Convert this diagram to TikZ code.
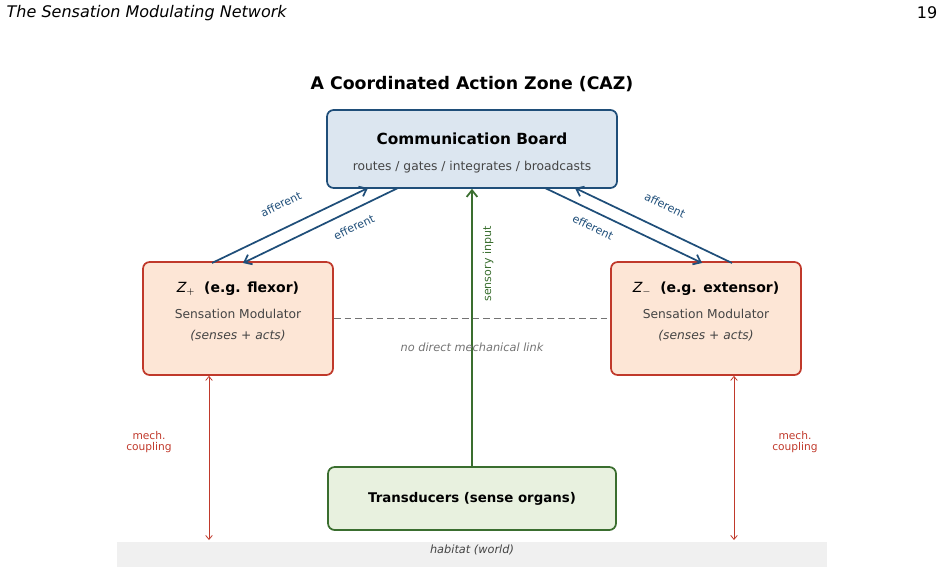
\documentclass[tikz,border=0pt]{standalone}
\usepackage{fontspec}
\setmainfont{DejaVu Sans}
\usetikzlibrary{arrows.meta}
\definecolor{bblue}{HTML}{1F4E79}
\definecolor{bfill}{HTML}{DCE6F0}
\definecolor{rred}{HTML}{C0392B}
\definecolor{rfill}{HTML}{FDE6D6}
\definecolor{ggreen}{HTML}{3A6E2F}
\definecolor{gfill}{HTML}{E8F1DF}
\definecolor{txtgray}{HTML}{444444}
\begin{document}
\begin{tikzpicture}[x=0.75pt,y=-0.75pt,
  box/.style={draw,line width=1.3pt,rounded corners=5pt,inner sep=0pt},
  conn/.style={line width=1.3pt,-{Straight Barb[length=5pt,width=8pt]}},
  mech/.style={rred,line width=0.6pt,{Straight Barb[length=3pt,width=5pt]}-{Straight Barb[length=3pt,width=5pt]}},
  lbl/.style={font=\fontsize{8.3}{9}\selectfont}]
\useasboundingbox (0,0) rectangle (946,588);
\node[anchor=west,font=\fontsize{12}{14}\selectfont\itshape] (hdr) at (2,13) {The Sensation Modulating Network};
\node[anchor=east,font=\fontsize{12}{14}\selectfont] (pg) at (942,13) {19};
\node[font=\fontsize{13}{15}\selectfont\bfseries] (title) at (472,84) {A Coordinated Action Zone (CAZ)};
% habitat
\fill[fill=black!6] (117,542) rectangle (827,567);
\node[font=\fontsize{8.5}{9}\selectfont\itshape,text=txtgray] (hab) at (472,550) {habitat (world)};
% boxes
\node[box,draw=bblue,fill=bfill,minimum width=290*0.75pt,minimum height=78*0.75pt] (cb) at (472,149) {};
\node[font=\fontsize{11.5}{13}\selectfont\bfseries] (cbt) at (472,139) {Communication Board};
\node[font=\fontsize{9.2}{10}\selectfont,text=txtgray] (cbs) at (472,167) {routes / gates / integrates / broadcasts};
\node[box,draw=rred,fill=rfill,minimum width=190*0.75pt,minimum height=113*0.75pt] (zp) at (238,318.5) {};
\node[font=\fontsize{10.5}{12}\selectfont\bfseries] (zpt) at (238,289) {\mdseries\itshape Z\upshape$_{+}$\ \ \bfseries(e.g. flexor)};
\node[font=\fontsize{9.2}{10}\selectfont,text=txtgray] (zps) at (238,314) {Sensation Modulator};
\node[font=\fontsize{9.2}{10}\selectfont\itshape,text=txtgray] (zpi) at (238,336) {(senses + acts)};
\node[box,draw=rred,fill=rfill,minimum width=190*0.75pt,minimum height=113*0.75pt] (zm) at (706,318.5) {};
\node[font=\fontsize{10.5}{12}\selectfont\bfseries] (zmt) at (706,289) {\mdseries\itshape Z\upshape$_{-}$\ \ \bfseries(e.g. extensor)};
\node[font=\fontsize{9.2}{10}\selectfont,text=txtgray] (zms) at (706,314) {Sensation Modulator};
\node[font=\fontsize{9.2}{10}\selectfont\itshape,text=txtgray] (zmi) at (706,336) {(senses + acts)};
\node[box,draw=ggreen,fill=gfill,minimum width=288*0.75pt,minimum height=63*0.75pt,font=\fontsize{10}{11}\selectfont\bfseries] (tr) at (472,498.5) {Transducers (sense organs)};
% connectors
\coordinate (a1) at (212,263); \coordinate (a2) at (368,188);
\coordinate (e1) at (398,188); \coordinate (e2) at (243,263);
\coordinate (e3) at (545,188); \coordinate (e4) at (702,263);
\coordinate (a3) at (732,263); \coordinate (a4) at (575,188);
\draw[conn,bblue] (a1) -- (a2);
\draw[conn,bblue] (e1) -- (e2);
\draw[conn,bblue] (e3) -- (e4);
\draw[conn,bblue] (a3) -- (a4);
\node[lbl,text=bblue,rotate=26] (la1) at (281,204) {afferent};
\node[lbl,text=bblue,rotate=26] (le1) at (354,227) {efferent};
\node[lbl,text=bblue,rotate=-26] (le2) at (593,227) {efferent};
\node[lbl,text=bblue,rotate=-26] (la2) at (665,205) {afferent};
\draw[conn,ggreen] (tr.north) -- (cb.south);
\node[lbl,text=ggreen,rotate=90] (si) at (488,264) {sensory input};
\draw[gray!90!black,line width=1.2pt,dash pattern=on 5pt off 3pt] (zp.east) -- (zm.west);
\node[font=\fontsize{8.5}{9}\selectfont\itshape,text=gray!90!black] (nd) at (472,347) {no direct mechanical link};
\coordinate (h1) at (209,540); \coordinate (h2) at (734,540);
\draw[mech] (zp.south -| h1) -- (h1);
\draw[mech] (zm.south -| h2) -- (h2);
\node[font=\fontsize{8}{8.5}\selectfont,text=rred,align=center] (m1) at (149,442) {mech.\\coupling};
\node[font=\fontsize{8}{8.5}\selectfont,text=rred,align=center] (m2) at (795,442) {mech.\\coupling};
\end{tikzpicture}
\end{document}
